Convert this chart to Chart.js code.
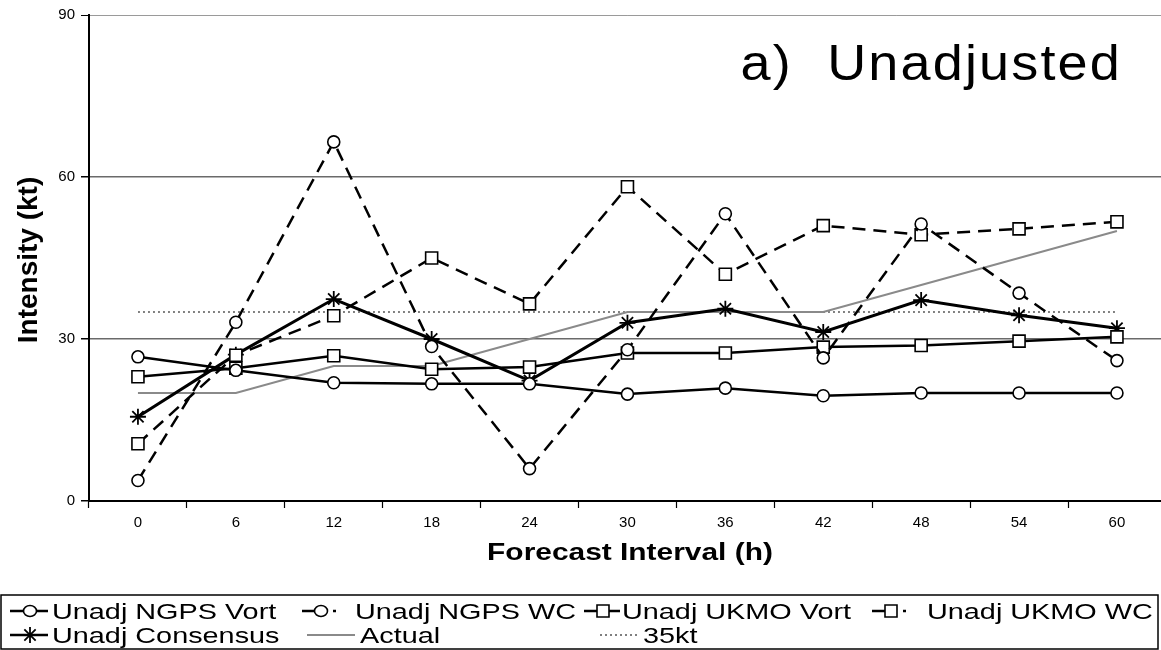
<!DOCTYPE html>
<html>
<head>
<meta charset="utf-8">
<script src="https://cdn.jsdelivr.net/npm/chart.js@4/dist/chart.umd.min.js"></script>
<style>
html,body{margin:0;padding:0;background:#fff;overflow:hidden;width:1161px;height:650px;}
canvas{display:block;}
</style>
</head>
<body>
<canvas id="c" width="1176" height="650"></canvas>
<script>
const categories = ['0','6','12','18','24','30','36','42','48','54','60'];
const ngpsVort  = [26.7, 24.2, 21.9, 21.7, 21.7, 19.8, 20.9, 19.5, 20.0, 20.0, 20.0];
const ngpsWC    = [3.8, 33.1, 66.5, 28.6, 6.0, 28.0, 53.2, 26.5, 51.3, 38.5, 26.0];
const ukmoVort  = [23.0, 24.6, 26.9, 24.4, 24.8, 27.4, 27.4, 28.5, 28.8, 29.6, 30.4];
const ukmoWC    = [10.6, 27.0, 34.3, 45.0, 36.5, 58.2, 42.0, 51.0, 49.3, 50.4, 51.7];
const consensus = [15.6, 27.1, 37.4, 30.0, 22.3, 33.0, 35.6, 31.3, 37.2, 34.4, 32.0];
const actual    = [20, 20, 25, 25, 30, 35, 35, 35, 40, 45, 50];
const kt35      = [35, 35, 35, 35, 35, 35, 35, 35, 35, 35, 35];
const yTicks    = [0, 30, 60, 90];
const seriesNames = ['Unadj NGPS Vort','Unadj NGPS WC','Unadj UKMO Vort','Unadj UKMO WC','Unadj Consensus','Actual','35kt'];

const FONT = '"Liberation Sans", Arial, sans-serif';
const DASH = [13, 8];

function ds(label, data, opts) {
  return Object.assign({
    label, data,
    borderColor: '#000', backgroundColor: '#fff',
    borderWidth: 2.5, pointBorderWidth: 1.6, pointBorderColor: '#000',
    pointBackgroundColor: '#fff', tension: 0, fill: false
  }, opts);
}

function drawMarker(ctx, style, x, y) {
  ctx.save();
  ctx.setLineDash([]);
  ctx.lineWidth = 1.6;
  ctx.strokeStyle = '#000';
  ctx.fillStyle = '#fff';
  if (style === 'circle') {
    ctx.beginPath(); ctx.ellipse(x, y, 6.5, 5.5, 0, 0, Math.PI*2); ctx.fill(); ctx.stroke();
  } else if (style === 'rect') {
    ctx.beginPath(); ctx.rect(x-6, y-6, 12, 12); ctx.fill(); ctx.stroke();
  } else if (style === 'star') {
    ctx.lineWidth = 1.8;
    ctx.beginPath();
    for (let i = 0; i < 4; i++) {
      const a = i * Math.PI/4;
      ctx.moveTo(x - 8*Math.cos(a), y - 8*Math.sin(a));
      ctx.lineTo(x + 8*Math.cos(a), y + 8*Math.sin(a));
    }
    ctx.stroke();
  }
  ctx.restore();
}

function stretchedText(ctx, text, x, y, font, sx, align) {
  ctx.save();
  ctx.font = font;
  ctx.fillStyle = '#000';
  ctx.textBaseline = 'alphabetic';
  const w = ctx.measureText(text).width * sx;
  let left = x;
  if (align === 'center') left = x - w/2;
  else if (align === 'right') left = x - w;
  ctx.translate(left, y);
  ctx.scale(sx, 1);
  ctx.textAlign = 'left';
  ctx.fillText(text, 0, 0);
  ctx.restore();
}

const decorPlugin = {
  id: 'decor',
  afterDraw(chart) {
    const ctx = chart.ctx;
    // Title
    ctx.save();
    ctx.letterSpacing = '2px';
    stretchedText(ctx, 'a)  Unadjusted', 1122, 80, '50px ' + FONT, 1.08, 'right');
    ctx.restore();
    // Axis titles
    stretchedText(ctx, 'Forecast Interval (h)', 630, 560, 'bold 23px ' + FONT, 1.3, 'center');
    ctx.save();
    ctx.translate(37, 260);
    ctx.rotate(-Math.PI/2);
    ctx.font = 'bold 28px ' + FONT;
    ctx.fillStyle = '#000';
    ctx.textAlign = 'center';
    ctx.fillText('Intensity (kt)', 0, 0);
    ctx.restore();

    // Legend box
    ctx.save();
    ctx.strokeStyle = '#000';
    ctx.lineWidth = 1.5;
    ctx.strokeRect(1, 595, 1157, 54);
    ctx.restore();

    const lf = '22px ' + FONT;
    const items = [
      {name: seriesNames[0], row: 611, x0: 10,  x1: 48,  mk: 'circle', mx: 30, kind: 'solid', tx: 52},
      {name: seriesNames[1], row: 611, x0: 302, x1: 345, mk: 'circle', mx: 321, kind: 'dashdot', tx: 355},
      {name: seriesNames[2], row: 611, x0: 584, x1: 620, mk: 'rect', mx: 603, kind: 'solid', tx: 622},
      {name: seriesNames[3], row: 611, x0: 872, x1: 915, mk: 'rect', mx: 891, kind: 'dashdot', tx: 927},
      {name: seriesNames[4], row: 635, x0: 10,  x1: 48,  mk: 'star', mx: 30, kind: 'solid', tx: 52},
      {name: seriesNames[5], row: 635, x0: 307, x1: 355, mk: null, kind: 'gray', tx: 360},
      {name: seriesNames[6], row: 635, x0: 600, x1: 637, mk: null, kind: 'dot', tx: 643}
    ];
    items.forEach(it => {
      ctx.save();
      const y = it.row;
      ctx.beginPath();
      if (it.kind === 'solid') {
        ctx.strokeStyle = '#000'; ctx.lineWidth = 2.5;
        ctx.moveTo(it.x0, y); ctx.lineTo(it.x1, y); ctx.stroke();
      } else if (it.kind === 'dashdot') {
        ctx.strokeStyle = '#000'; ctx.lineWidth = 2.5;
        ctx.moveTo(it.x0, y); ctx.lineTo(it.mx, y); ctx.stroke();
        ctx.beginPath(); ctx.moveTo(it.mx + 12, y); ctx.lineTo(it.mx + 15, y); ctx.stroke();
      } else if (it.kind === 'gray') {
        ctx.strokeStyle = '#8a8a8a'; ctx.lineWidth = 2;
        ctx.moveTo(it.x0, y); ctx.lineTo(it.x1, y); ctx.stroke();
      } else if (it.kind === 'dot') {
        ctx.strokeStyle = '#000'; ctx.lineWidth = 1.2; ctx.setLineDash([2, 3]);
        ctx.moveTo(it.x0, y); ctx.lineTo(it.x1, y); ctx.stroke();
      }
      ctx.restore();
      if (it.mk) drawMarker(ctx, it.mk, it.mx, y);
      stretchedText(ctx, it.name, it.tx, y + 8, lf, 1.31, 'left');
    });
  }
};

new Chart(document.getElementById('c'), {
  type: 'line',
  data: {
    labels: categories,
    datasets: [
      ds(seriesNames[0], ngpsVort,  {pointStyle: 'circle', pointRadius: 6}),
      ds(seriesNames[1], ngpsWC,    {pointStyle: 'circle', pointRadius: 6, borderDash: DASH}),
      ds(seriesNames[2], ukmoVort,  {pointStyle: 'rect', pointRadius: 8.5}),
      ds(seriesNames[3], ukmoWC,    {pointStyle: 'rect', pointRadius: 8.5, borderDash: DASH}),
      ds(seriesNames[4], consensus, {pointStyle: 'star', pointRadius: 8, pointBorderWidth: 1.8, borderWidth: 3}),
      ds(seriesNames[5], actual,    {pointRadius: 0, borderColor: '#8a8a8a', borderWidth: 2}),
      ds(seriesNames[6], kt35,      {pointRadius: 0, borderWidth: 1.2, borderDash: [2, 3]})
    ]
  },
  options: {
    responsive: false,
    animation: false,
    devicePixelRatio: 1,
    layout: {padding: {top: 15, right: 0, left: 0, bottom: 0}},
    plugins: {legend: {display: false}, tooltip: {enabled: false}, title: {display: false}},
    scales: {
      x: {
        type: 'category',
        offset: true,
        afterFit: s => { s.height = 149; },
        grid: {offset: true, drawOnChartArea: false, drawTicks: true, tickLength: 7, tickColor: '#000', tickWidth: 1.2},
        border: {display: true, color: '#000', width: 2},
        ticks: {color: '#000', font: {family: FONT, size: 15}, padding: 6, maxRotation: 0, autoSkip: false}
      },
      y: {
        min: 0, max: 90,
        afterFit: s => { s.width = 89; },
        afterBuildTicks: s => { s.ticks = yTicks.map(v => ({value: v})); },
        grid: {
          drawTicks: true, tickLength: 8, tickColor: '#000',
          color: c => (c.tick && c.tick.value === 0) ? 'rgba(0,0,0,0)' : (c.tick && c.tick.value === 90 ? '#9a9a9a' : '#6a6a6a'),
          lineWidth: c => (c.tick && c.tick.value === 90) ? 1 : 1.5
        },
        border: {display: true, color: '#000', width: 2},
        ticks: {color: '#000', font: {family: FONT, size: 15}, padding: 6}
      }
    }
  },
  plugins: [decorPlugin]
});
</script>
</body>
</html>
